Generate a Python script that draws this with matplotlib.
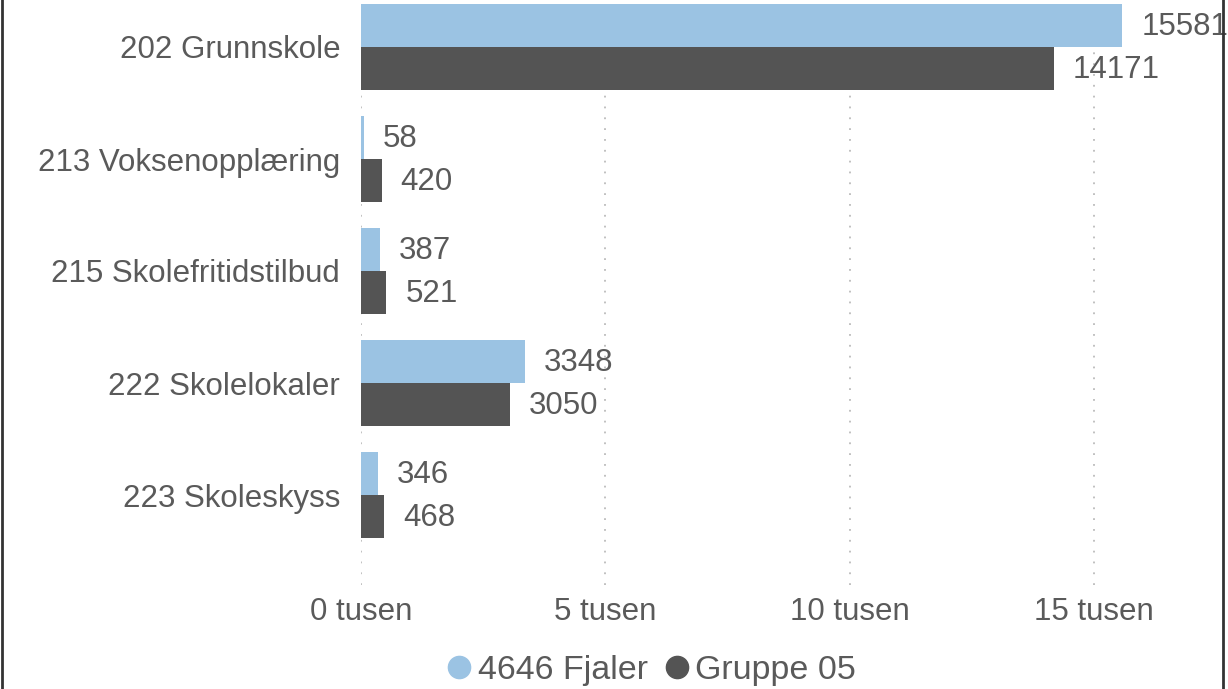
import numpy as np
import matplotlib.pyplot as plt
from matplotlib.lines import Line2D

categories = ["202 Grunnskole", "213 Voksenopplæring", "215 Skolefritidstilbud",
              "222 Skolelokaler", "223 Skoleskyss"]
fjaler = [15581, 58, 387, 3348, 346]
gruppe = [14171, 420, 521, 3050, 468]
series_names = ["4646 Fjaler", "Gruppe 05"]
xticks = [0, 5000, 10000, 15000]
xtick_labels = ["0 tusen", "5 tusen", "10 tusen", "15 tusen"]

c_light = '#9BC3E3'
c_dark = '#545454'
txt = '#5A5A5A'

plt.rcParams['font.family'] = ['Liberation Sans', 'DejaVu Sans']

fig = plt.figure(figsize=(12.28, 6.89), dpi=100)
W, H = 1228, 689
ax = fig.add_axes([361 / W, 1 - 585 / H, (1222 - 361) / W, 585 / H])

y = np.arange(len(categories))
h = 0.385
ax.barh(y - h / 2, fjaler, height=h, color=c_light)
ax.barh(y + h / 2, gruppe, height=h, color=c_dark)

fs = 22.5
for i in range(len(categories)):
    ax.text(fjaler[i] + 390, y[i] - h / 2 + 0.015, str(fjaler[i]), va='center', ha='left',
            fontsize=fs, color=txt)
    ax.text(gruppe[i] + 390, y[i] + h / 2 + 0.015, str(gruppe[i]), va='center', ha='left',
            fontsize=fs, color=txt)

ax.set_xlim(0, (1222 - 361) / 48.87 * 1000)
ax.set_ylim(4 + 90 / 112, -47 / 112)
ax.set_yticks(y)
ax.set_yticklabels(categories, fontsize=fs, color=txt)
ax.set_xticks(xticks)
ax.set_xticklabels(xtick_labels, fontsize=fs, color=txt)
ax.tick_params(length=0)
ax.tick_params(axis='y', pad=15)
ax.tick_params(axis='x', pad=9)
for s in ax.spines.values():
    s.set_visible(False)
ax.grid(axis='x', linestyle=(0, (1, 5)), color='#BBBBBB', linewidth=1.3)
ax.set_axisbelow(True)

handles = [Line2D([], [], marker='o', linestyle='', color=c_light, markersize=16),
           Line2D([], [], marker='o', linestyle='', color=c_dark, markersize=16)]
leg = fig.legend(handles, series_names, loc='center', bbox_to_anchor=(650 / W, 1 - 670 / H),
                 ncol=2, frameon=False, fontsize=24.5, handletextpad=0.1,
                 columnspacing=0.4, handlelength=0.9)
for t in leg.get_texts():
    t.set_color(txt)

# window frame lines
fig.add_artist(Line2D([2 / W, 2 / W], [0, 1], color='#333333', lw=2))
fig.add_artist(Line2D([1223 / W, 1223 / W], [0, 1], color='#333333', lw=2))

fig.savefig('out.png', dpi=100, facecolor='white')
